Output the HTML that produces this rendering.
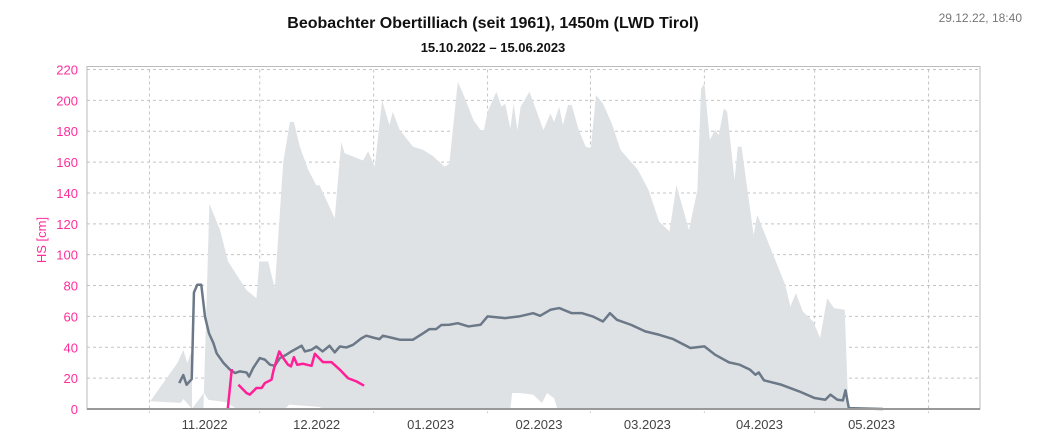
<!DOCTYPE html>
<html><head><meta charset="utf-8"><style>
body{margin:0;background:#fff;font-family:"Liberation Sans",sans-serif}
svg{display:block}
</style></head><body>
<svg id="c" width="1052" height="437">
<text x="493" y="28" text-anchor="middle" font-size="16" font-weight="bold" fill="#111">Beobachter Obertilliach (seit 1961), 1450m (LWD Tirol)</text>
<text x="493" y="52" text-anchor="middle" font-size="13" font-weight="bold" fill="#111">15.10.2022 – 15.06.2023</text>
<text x="1022" y="22" text-anchor="end" font-size="12" fill="#777">29.12.22, 18:40</text>
<text transform="translate(46,240) rotate(-90)" text-anchor="middle" font-size="13" fill="#ff2d9b">HS [cm]</text>
<g id="grid"></g>
<g id="band"></g>
<g id="lines"></g>
<g id="axes"></g>
</svg>
<script>
// days since 15.10.2022
const maxDays=[17.2,24.6,26.2,27.3,28.2,28.5,28.6,31.7,31.8,33.3,36.2,38.4,43.4,46.1,46.9,49.3,51.1,53.4,55.2,56.3,57.9,60.2,62.4,63.3,67.4,69.2,70.1,73.7,75.1,76.5,78.3,80.3,82.3,83.2,85.1,88.7,91.4,94.1,97.3,98.6,100.9,102.3,105.2,107.1,108,109,111.4,112.8,113.8,115.2,116.1,117.1,118,120.4,124.2,126.1,127.1,128.5,129.5,130.9,131.9,133.8,135.7,137.1,138.5,140.4,142.8,145.2,149.9,152.8,155.7,158.5,160.4,163.8,166.1,167.1,168,169.5,170.9,171.9,173.3,174.2,176.2,177.1,178.1,181.4,182.4,186.2,190,191.4,192.9,194.8,197.6,199.5,201.4,203.3,206.2,207.1,208];
const maxVals=[5,29.8,38.4,29.8,36,36,0,0,10.4,133,116,95.6,77,71.8,95.6,95.6,78.3,160,186,186,170,155,145,145,123.6,173,165.7,162.4,161,167,157,200,184,192.6,180.8,170,168,164,157,159,212,204.5,187,180.8,180.8,192.6,205.6,195.9,198,181.8,198,180.8,195.9,205.6,180.8,191.5,186,195.9,184,197,197,180.8,170,169,203.4,198,185,167.8,155,142,121.4,115,145,116,142,207.7,211,174.3,180.8,177.5,194.8,192.6,148.4,170,170,112.8,125.8,103,80.5,66.4,75,63.2,56.7,46,71.8,65.4,64.3,3.9,0];
const minDays=[17.2,25.5,26.2,27.6,28.5,31.8,33,38,40.7,53.8,55,63.3,64.2,115.2,115.7,117.6,121.4,123.8,125.2,127.1,128,208];
const minVals=[5,4,6.5,2.8,0,10.4,6,4.3,0,0,2.8,1.3,0,0,10.4,10.4,9.3,3.9,10.4,7,0,0];
const meanDays=[25.1,26.2,27.1,28.5,29.1,30,31.1,32.1,33.2,34.4,35.3,37.1,38.9,40.3,41.6,43.4,44.1,45.2,47,48.4,49.8,51.1,52.5,54.1,55.6,58.4,59.3,61.1,62.4,64.1,66,67.4,68.8,70.6,72.4,74.6,76,78.3,79.6,80.5,83.2,85.1,88.7,91.4,93.2,95,96.4,98.6,100.9,103.8,107.1,109,113.8,117.6,121.4,123.3,126.1,128.5,131.9,134.7,137.6,140.4,142.3,144.2,148,151.9,155.7,159.5,164.2,168,170.9,174.7,177.6,180.4,181.9,182.8,184.2,189,193.8,198,200.9,202.3,204.2,205.7,206.4,207.3,216.6];
const meanVals=[16.8,22,15.7,19.4,75.5,80.5,80.5,60,49,42.7,36,30,25.5,23.3,24.4,23.7,21,26.5,33,32,28.7,28,33,35,37.3,41,37.3,38.4,40.5,37.3,41,36.7,40.5,39.9,41.6,45.7,47.5,46,45.3,47.5,46,44.9,44.9,49,51.8,51.8,54.4,54.6,55.6,53.5,54.6,60,58.9,60,62.1,60.4,64.3,65.4,62.1,62.1,60,56.7,62.1,57.8,54.6,50.3,48.1,45.3,39.5,40.6,35.2,30.2,28.7,25.5,22.2,23.7,18.6,15.7,11.4,7.1,6,9.3,6,5.6,12.1,0.6,0];
const curDaysA=[38.3,39.4];
const curValsA=[0,25.9];
const curDaysB=[41.2,43.4,44.3,46.1,47.5,48.4,50.2,50.8,52.3,53.4,54.7,55.5,56.3,57.2,58.8,61.1,62,64.2,66.5,68.8,71,73.3,75.4];
const curValsB=[15.7,10.4,9.3,13.6,13.6,16.8,19,25.5,37.3,33,28.7,27.6,33.6,28.7,29.3,28,35.8,30.4,30.4,25.5,20,17.9,15.1];
const yTicks=[0,20,40,60,80,100,120,140,160,180,200,220];
const monthStarts=[17,47,78,109,137,168,198,229];
const monthLabels=["11.2022","12.2022","01.2023","02.2023","03.2023","04.2023","05.2023"];

const X0=87,X1=980,Y0=409,Y1=69.5,TOTAL=243;
const xs=d=>X0+(X1-X0)*d/TOTAL;
const ys=v=>Y0-(Y0-Y1)*v/220;
const NS="http://www.w3.org/2000/svg";
function mk(tag,attrs,parent){const e=document.createElementNS(NS,tag);for(const k in attrs)e.setAttribute(k,attrs[k]);parent.appendChild(e);return e;}
const grid=document.getElementById('grid'),band=document.getElementById('band'),lines=document.getElementById('lines'),axes=document.getElementById('axes');
yTicks.forEach(t=>{if(t>0){const l=mk('line',{x1:X0,x2:X1,y1:ys(t),y2:ys(t),stroke:'#c4c4c4','stroke-dasharray':'3,3'},grid);

}
const tx=mk('text',{x:X0-9,y:ys(t)+5,'text-anchor':'end','font-size':'13',fill:'#ff2d9b'},axes);tx.textContent=t;

});
monthStarts.forEach(d=>{const l=mk('line',{x1:xs(d),x2:xs(d),y1:Y1,y2:Y0+4,stroke:'#c4c4c4','stroke-dasharray':'3,3'},grid);

});
monthLabels.forEach((m,i)=>{const cx=(xs(monthStarts[i])+xs(monthStarts[i+1]))/2;const tx=mk('text',{x:cx,y:Y0+20,'text-anchor':'middle','font-size':'13',fill:'#444'},axes);tx.textContent=m;

});
let pts=maxDays.map((d,i)=>xs(d)+','+ys(maxVals[i]));
for(let i=minDays.length-1;i>=0;i--)pts.push(xs(minDays[i])+','+ys(minVals[i]));
const poly=mk('polygon',{points:pts.join(' '),fill:'#dfe2e5'},band);


function line(ds,vs,col,w,name){const p=mk('polyline',{points:ds.map((d,i)=>xs(d)+','+ys(vs[i])).join(' '),fill:'none',stroke:col,'stroke-width':w,'stroke-linejoin':'round'},lines);

}
line(meanDays,meanVals,'#6b7887',2.5,'mean-snow-depth-line');
line(curDaysA,curValsA,'#ff1f96',2.5,'current-snow-depth-line');
line(curDaysB,curValsB,'#ff1f96',2.5,'current-snow-depth-line');
const fr=mk('rect',{x:X0,y:Y1-3,width:X1-X0,height:Y0-Y1+3,fill:'none',stroke:'#bbb'},axes);


const bl=mk('line',{x1:X0,x2:X1,y1:Y0,y2:Y0,stroke:'#999','stroke-width':2},axes);


</script>
</body></html>
